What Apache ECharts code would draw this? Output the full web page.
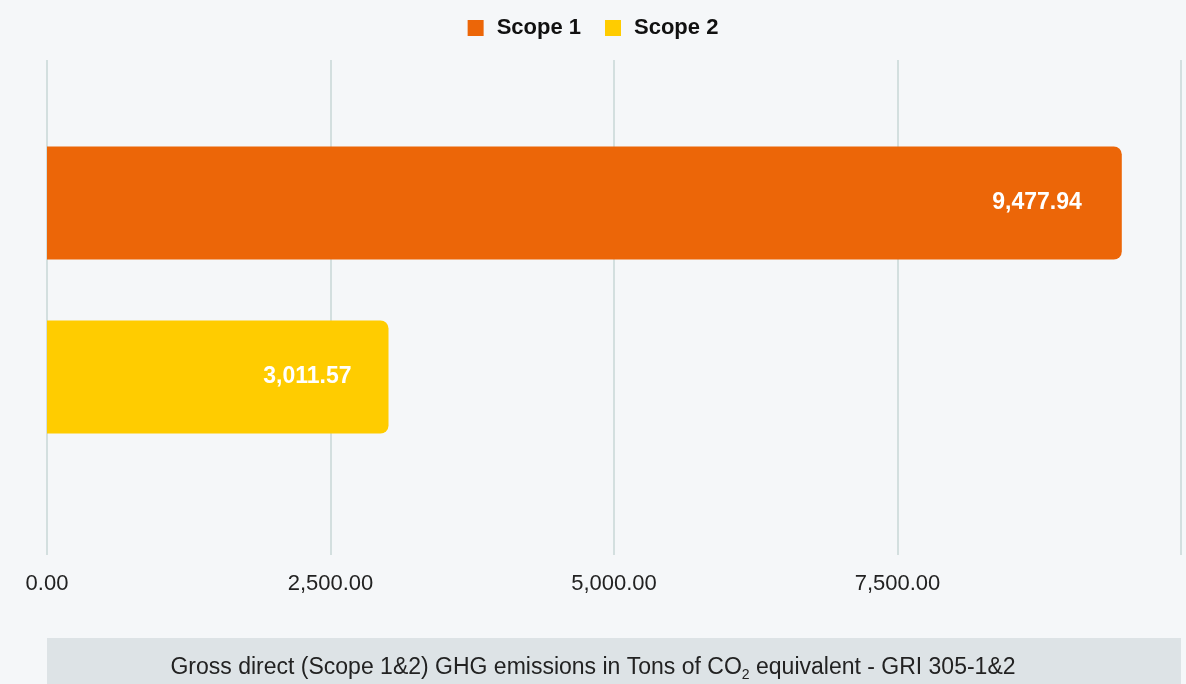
<!DOCTYPE html>
<html>
<head>
<meta charset="utf-8">
<script src="https://cdn.jsdelivr.net/npm/echarts@6/dist/echarts.min.js"></script>
<style>
html,body{margin:0;padding:0;background:#f5f7f9;}
#chart{width:1186px;height:684px;}
</style>
</head>
<body>
<div id="chart"></div>
<script>
const categories = ['GHG'];
const seriesNames = ['Scope 1', 'Scope 2'];
const scope1Values = [9477.94];
const scope2Values = [3011.57];
const xTicks = [0, 2500, 5000, 7500, 10000];
const caption = 'Gross direct (Scope 1&2) GHG emissions in Tons of CO{sub|2} equivalent - GRI 305-1&2';

const fmt = v => Number(v).toLocaleString('en-US', {minimumFractionDigits: 2, maximumFractionDigits: 2});
const FONT = '"Liberation Sans", Arial, Helvetica, sans-serif';

const chart = echarts.init(document.getElementById('chart'));
chart.setOption({
  backgroundColor: '#f5f7f9',
  textStyle: {fontFamily: FONT},
  legend: {
    top: 12, left: 'center',
    icon: 'rect', itemWidth: 16, itemHeight: 16, itemGap: 24,
    data: seriesNames,
    textStyle: {fontSize: 22, fontWeight: 'bold', color: '#111', fontFamily: FONT, padding: [0, 0, 0, 8]}
  },
  grid: [
    {left: 47, right: 5, top: 60, bottom: 129},
    {left: 47, right: 5, top: 60, bottom: 164}
  ],
  xAxis: [
    {
      gridIndex: 0, type: 'value', min: xTicks[0], max: xTicks[xTicks.length - 1], interval: 2500,
      axisLine: {show: false}, axisTick: {show: false},
      splitLine: {show: true, lineStyle: {color: '#d3dfdf', width: 2}},
      axisLabel: {fontSize: 22, color: '#222', margin: 18, showMaxLabel: false, formatter: fmt, fontFamily: FONT}
    },
    {
      gridIndex: 1, type: 'value', min: xTicks[0], max: xTicks[xTicks.length - 1], interval: 2500,
      axisLine: {show: false}, axisTick: {show: false}, splitLine: {show: false}, axisLabel: {show: false}
    }
  ],
  yAxis: [
    {gridIndex: 0, type: 'category', data: categories, show: false},
    {gridIndex: 1, type: 'category', data: categories, show: false, inverse: true}
  ],
  series: [
    {
      name: seriesNames[0], type: 'bar', xAxisIndex: 1, yAxisIndex: 1,
      data: scope1Values, barWidth: 113, barGap: '54%',
      itemStyle: {color: '#ec6608', borderRadius: [0, 8, 8, 0]},
      label: {show: true, position: 'insideRight', distance: 40, formatter: p => fmt(p.value),
        color: '#fff', fontWeight: 'bold', fontSize: 23, fontFamily: FONT}
    },
    {
      name: seriesNames[1], type: 'bar', xAxisIndex: 1, yAxisIndex: 1,
      data: scope2Values, barWidth: 113, barGap: '54%',
      itemStyle: {color: '#ffcc00', borderRadius: [0, 8, 8, 0]},
      label: {show: true, position: 'insideRight', distance: 37, formatter: p => fmt(p.value),
        color: '#fff', fontWeight: 'bold', fontSize: 23, fontFamily: FONT}
    }
  ],
  graphic: [
    {
      type: 'rect', left: 47, top: 638, z: 0,
      shape: {width: 1134, height: 60},
      style: {fill: '#dde3e6'}
    },
    {
      type: 'text', left: 'center', top: 656, z: 1,
      style: {
        text: caption, fill: '#222', font: '23px ' + FONT,
        rich: {sub: {fontSize: 14, fill: '#222', padding: [15, 0, 0, 0], fontFamily: FONT}}
      }
    }
  ]
});
</script>
</body>
</html>
